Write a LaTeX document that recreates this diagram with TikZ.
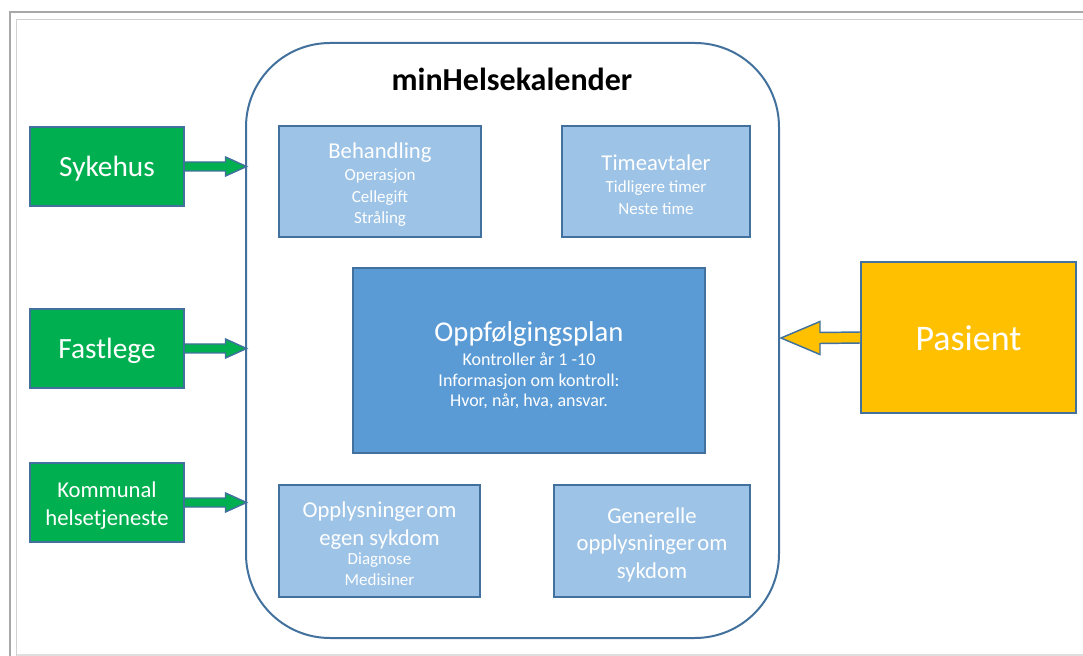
\documentclass[tikz,border=0pt]{standalone}
\usepackage{fontspec}
\setmainfont{Carlito}
\usetikzlibrary{calc}

\definecolor{edge}{HTML}{41719C}
\definecolor{grn}{HTML}{00B050}
\definecolor{lblue}{HTML}{9DC3E6}
\definecolor{mblue}{HTML}{5B9BD5}
\definecolor{gold}{HTML}{FFC000}
\definecolor{frameA}{HTML}{A8A8A8}
\definecolor{frameB}{HTML}{D2D2D2}

\newcommand{\fsz}[2]{\fontsize{#1}{#2}\selectfont}

\begin{document}
\begin{tikzpicture}[x=0.75pt,y=-0.75pt,
  box/.style={draw=edge,line width=1.3pt,inner sep=0pt},
  source/.style={box,fill=grn,minimum width=115.5pt,minimum height=59.25pt},
  panel/.style={box,fill=lblue,minimum height=83.5pt},
  label/.style={text=white,align=center,inner sep=0pt},
  blockarrow/.style={draw=edge,line width=1.1pt,line join=miter}
]
\useasboundingbox (0,0) rectangle (1083,656);

% page frame
\draw[frameA,line width=1.2pt] (10,656) -- (10,12) -- (1083,12);
\draw[frameB,line width=1.2pt] (16.5,656) -- (16.5,19.5) -- (1083,19.5);
\draw[frameB!70!white,line width=1pt] (16.5,655) -- (1083,655);

% central container
\node[draw=edge,line width=1.5pt,fill=white,rounded corners=63pt,
      minimum width=399.75pt,minimum height=446.25pt,inner sep=0pt]
      (main) at (512.5,340.5) {};
\node[font=\fsz{24}{28}\bfseries] (title) at (512,79) {minHelsekalender};

% sources on the left
\node[source] (syk) at (107,166.5) {};
\node[source] (fast) at (107,348.5) {};
\node[source] (komm) at (107,502.5) {};
\node[label,font=\fsz{22}{25}] (sykT) at ($(syk)+(0,2.5)$) {Sykehus};
\node[label,font=\fsz{22}{25}] (fastT) at ($(fast)+(0,2)$) {Fastlege};
\node[label,font=\fsz{17}{20.8}] (kommT) at ($(komm)+(0,3)$) {Kommunal\\helsetjeneste};

% content panels
\node[panel,minimum width=151.5pt] (beh) at (380,181.5) {};
\node[panel,minimum width=141pt] (time) at (656,181.5) {};
\node[box,fill=mblue,minimum width=264pt,minimum height=138.75pt] (plan) at (529,360.5) {};
\node[panel,minimum width=150.75pt] (egen) at (379.5,541) {};
\node[panel,minimum width=147pt] (gen) at (652,541) {};

\node[label,font=\fsz{12.75}{16}] (behT) at ($(beh)+(0,3)$)
  {{\fsz{17}{17}Behandling}\\[1pt]Operasjon\\Cellegift\\Stråling};
\node[label,font=\fsz{12.75}{16}] (timeT) at ($(time)+(0,3)$)
  {{\fsz{17}{17}Timeavtaler}\\[1pt]Tidligere timer\\Neste time};
\node[label,font=\fsz{13.5}{15.4}] (planT) at ($(plan)+(0,4.5)$)
  {{\fsz{21.5}{21.5}Oppfølgingsplan}\\[3pt]Kontroller år 1 -10\\Informasjon om kontroll:\\Hvor, når, hva, ansvar.};
\node[label,font=\fsz{17}{21.5}] (egenT) at ($(egen)+(0,2.5)$)
  {Opplysninger\hspace{0.1em}om\\egen sykdom\\[-7.25pt]{\fsz{12.75}{15.75}Diagnose}\\[-6pt]{\fsz{12.75}{15.75}Medisiner}};
\node[label,font=\fsz{17}{20.6}] (genT) at ($(gen)+(0,3.5)$)
  {Generelle\\opplysninger\hspace{0.1em}om\\sykdom};

% patient
\node[box,fill=gold,minimum width=161.25pt,minimum height=113.25pt] (pas) at (968.5,337.5) {};
\node[label,font=\fsz{27}{30}] (pasT) at ($(pas)+(0,1)$) {Pasient};

% block arrows into the container
\foreach \src in {syk,fast,komm}{
  \coordinate (tip) at ($(\src.east -| main.west)+(1.5,0)$);
  \draw[blockarrow,fill=grn]
    ($(\src.east)+(0,-4.5)$) -- ($(tip)+(-21,-4.5)$) -- ($(tip)+(-21,-9.5)$) --
    (tip) -- ($(tip)+(-21,9.5)$) -- ($(tip)+(-21,4.5)$) -- ($(\src.east)+(0,4.5)$);
}
\coordinate (ptip) at ($(pas.west -| main.east)+(1,0.5)$);
\draw[blockarrow,fill=gold]
  ($(pas.west)+(0,-5.5)$) -- ($(ptip)+(39,-5.5)$) -- ($(ptip)+(39,-16.5)$) --
  (ptip) -- ($(ptip)+(39,16.5)$) -- ($(ptip)+(39,5.5)$) -- ($(pas.west)+(0,5.5)$);
\end{tikzpicture}
\end{document}
